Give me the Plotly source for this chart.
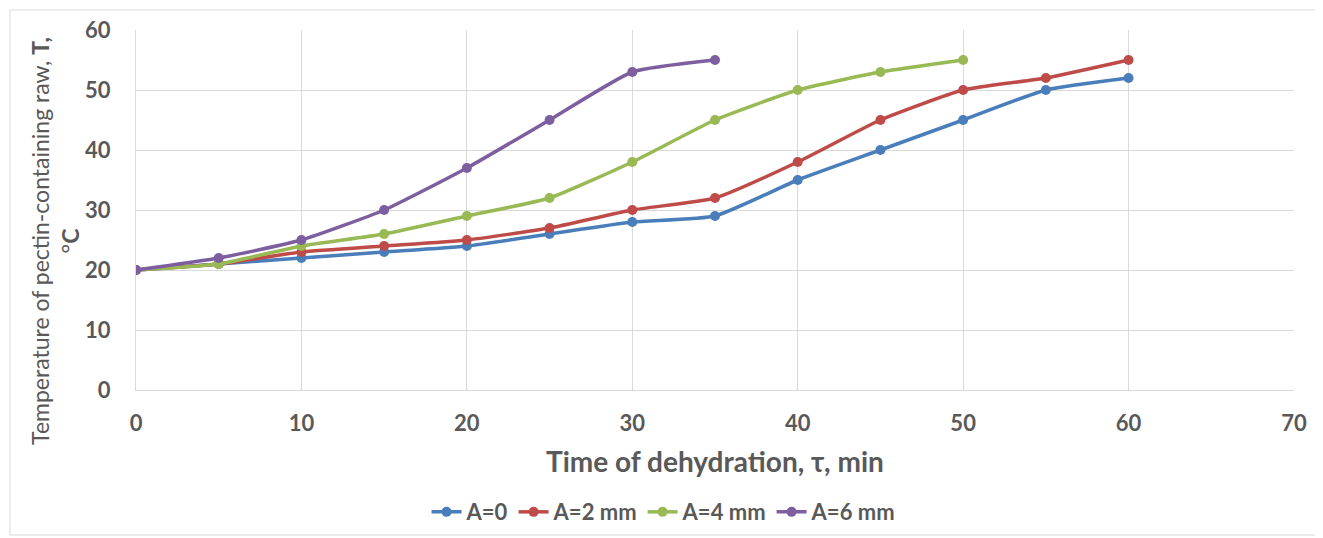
import plotly.graph_objects as go

t_a0 = [0, 5, 10, 15, 20, 25, 30, 35, 40, 45, 50, 55, 60]
T_a0 = [20, 21, 22, 23, 24, 26, 28, 29, 35, 40, 45, 50, 52]
t_a2 = [0, 5, 10, 15, 20, 25, 30, 35, 40, 45, 50, 55, 60]
T_a2 = [20, 21, 23, 24, 25, 27, 30, 32, 38, 45, 50, 52, 55]
t_a4 = [0, 5, 10, 15, 20, 25, 30, 35, 40, 45, 50]
T_a4 = [20, 21, 24, 26, 29, 32, 38, 45, 50, 53, 55]
t_a6 = [0, 5, 10, 15, 20, 25, 30, 35]
T_a6 = [20, 22, 25, 30, 37, 45, 53, 55]

series = [
    ("A=0", t_a0, T_a0, "#4a7ebb"),
    ("A=2 mm", t_a2, T_a2, "#be4b48"),
    ("A=4 mm", t_a4, T_a4, "#98b954"),
    ("A=6 mm", t_a6, T_a6, "#7d5fa0"),
]

x_title = "<b>Time of dehydration, τ, min</b>"
y_title = "Temperature of pectin-containing raw, <b>T,</b><br>°<b>C</b>"

fig = go.Figure()
for name, x, y, c in series:
    fig.add_trace(go.Scatter(
        x=x, y=y, name=name, mode="lines+markers",
        line=dict(color=c, width=3.5, shape="spline", smoothing=0.5),
        marker=dict(color=c, size=10),
    ))

font_family = "Lato, 'Open Sans', sans-serif"
grid = "#d9d9d9"
tick_font = dict(family=font_family, size=22, color="#595959", weight="bold")

fig.update_layout(
    width=1323, height=538,
    margin=dict(l=128, r=37, t=22, b=156),
    paper_bgcolor="white", plot_bgcolor="white",
    font=dict(family=font_family, color="#595959"),
    showlegend=True,
    legend=dict(orientation="h", x=0.456, xanchor="center", y=-0.339, yanchor="middle",
                font=dict(family=font_family, size=22, color="#595959", weight="bold"),
                itemwidth=30),
    xaxis=dict(range=[0, 70], dtick=10, showgrid=True, gridcolor=grid, gridwidth=1,
               zeroline=False, showline=True, linecolor=grid, linewidth=1,
               tickfont=tick_font, ticks="", automargin=False, ticklabelstandoff=14),
    yaxis=dict(range=[0, 60], dtick=10, showgrid=True, gridcolor=grid, gridwidth=1,
               zeroline=False, showline=True, linecolor=grid, linewidth=1,
               tickfont=tick_font, ticks="", automargin=False, ticklabelstandoff=20),
)

fig.add_annotation(text=x_title, xref="paper", yref="paper", x=0.5, y=-0.197,
                   xanchor="center", yanchor="middle", showarrow=False,
                   font=dict(family=font_family, size=28, color="#595959"))
fig.add_annotation(text=y_title, xref="paper", yref="paper", x=-0.07, y=0.414,
                   xanchor="center", yanchor="middle", showarrow=False, textangle=-90,
                   font=dict(family=font_family, size=23, color="#595959"))

fig.add_shape(type="rect", xref="paper", yref="paper",
              x0=-0.1088, x1=1.0207, y0=-0.4028, y1=1.0556,
              line=dict(color="#d9d9d9", width=1), fillcolor="rgba(0,0,0,0)", layer="below")

fig.write_html("out.html")
